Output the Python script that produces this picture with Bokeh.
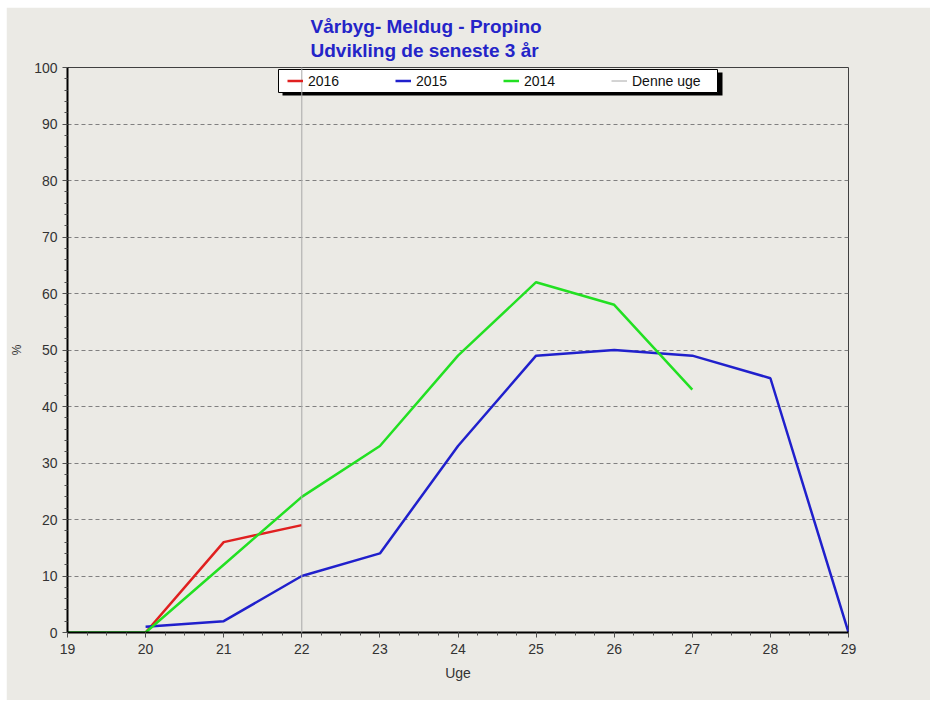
from bokeh.plotting import figure
from bokeh.models import (Legend, LegendItem, Title, BoxAnnotation, Range1d,
                          SingleIntervalTicker)
from bokeh.embed import file_html
from bokeh.resources import INLINE

# ---- data ----
weeks_2016 = [20, 21, 22]
pct_2016 = [0, 16, 19]
weeks_2015 = [20, 21, 22, 23, 24, 25, 26, 27, 28, 29]
pct_2015 = [1, 2, 10, 14, 33, 49, 50, 49, 45, 0]
weeks_2014 = [19, 20, 21, 22, 23, 24, 25, 26, 27]
pct_2014 = [0, 0, 12, 24, 33, 49, 62, 58, 43]
current_week = 22
x_limits = [19, 29]
y_limits = [0, 100]
title_lines = ["Vårbyg- Meldug - Propino", "Udvikling de seneste 3 år"]
series_names = ["2016", "2015", "2014", "Denne uge"]

BG = "#EBEAE5"
FONT = "Liberation Sans"

p = figure(width=924, height=693,
           x_range=Range1d(*x_limits), y_range=Range1d(*y_limits),
           output_backend="svg", toolbar_location=None,
           min_border_left=61, min_border_right=82,
           min_border_top=60, min_border_bottom=68,
           background_fill_color=BG, border_fill_color=BG)
p.margin = (7, 0, 0, 6)

p.outline_line_color = "#404040"
p.outline_line_width = 1

# axes
p.xaxis.ticker = SingleIntervalTicker(interval=1, num_minor_ticks=4)
p.yaxis.ticker = SingleIntervalTicker(interval=10, num_minor_ticks=5)
for ax in (p.xaxis[0], p.yaxis[0]):
    ax.axis_line_color = "black"
    ax.axis_line_width = 2
    ax.major_tick_out = 5
    ax.major_tick_in = 0
    ax.minor_tick_out = 3
    ax.minor_tick_in = 0
    ax.major_tick_line_color = "#505050"
    ax.minor_tick_line_color = "#505050"
    ax.major_label_text_font = FONT
    ax.major_label_text_font_size = "14px"
    ax.major_label_text_color = "#333333"
    ax.axis_label_text_font = FONT
    ax.axis_label_text_font_style = "normal"
    ax.axis_label_text_color = "#333333"
p.xaxis.axis_label = "Uge"
p.yaxis.axis_label = "%"
p.xaxis.axis_label_text_font_size = "14px"
p.yaxis.axis_label_text_font_size = "12px"
p.xaxis.major_label_standoff = 6
p.yaxis.major_label_standoff = 5
p.xaxis.axis_label_standoff = 8
p.yaxis.axis_label_standoff = 7

# grid
p.xgrid.grid_line_color = None
p.ygrid.grid_line_color = "#808080"
p.ygrid.grid_line_dash = "4 3"
p.ygrid.grid_line_width = 1

# series
r16 = p.line(weeks_2016, pct_2016, line_color="#E02020", line_width=2.5)
r15 = p.line(weeks_2015, pct_2015, line_color="#2020CC", line_width=2.5)
r14 = p.line(weeks_2014, pct_2014, line_color="#22E022", line_width=2.5)
rnow = p.line([current_week, current_week], y_limits, line_color="#A8A8A8",
              line_width=1, level="overlay")

# legend box + shadow (screen units relative to frame)
shadow = BoxAnnotation(left=215, right=655, top=560, bottom=537,
                       left_units="screen", right_units="screen",
                       top_units="screen", bottom_units="screen",
                       fill_color="black", fill_alpha=1, line_alpha=0)
box = BoxAnnotation(left=211, right=650, top=563, bottom=540,
                    left_units="screen", right_units="screen",
                    top_units="screen", bottom_units="screen",
                    fill_color="white", fill_alpha=1,
                    line_color="black", line_width=1, line_alpha=1)
p.add_layout(shadow)
p.add_layout(box)

legend = Legend(items=[LegendItem(label=series_names[0], renderers=[r16]),
                       LegendItem(label=series_names[1], renderers=[r15]),
                       LegendItem(label=series_names[2], renderers=[r14]),
                       LegendItem(label=series_names[3], renderers=[rnow])],
                location=(220, 543), orientation="horizontal",
                glyph_width=16, glyph_height=17, label_width=87,
                label_height=17, label_standoff=5, spacing=0, padding=0,
                margin=0, border_line_alpha=0, background_fill_alpha=0,
                label_text_font=FONT, label_text_font_size="14px",
                label_text_color="#111111")
p.add_layout(legend)

# two-line title
p.add_layout(Title(text="\n".join(title_lines), align="left", offset=243,
                   standoff=13, text_font=FONT, text_font_size="19px",
                   text_line_height=1.12,
                   text_font_style="bold", text_color="#2424C8"),
             "above")

with open("out.html", "w") as f:
    f.write(file_html(p, INLINE))
